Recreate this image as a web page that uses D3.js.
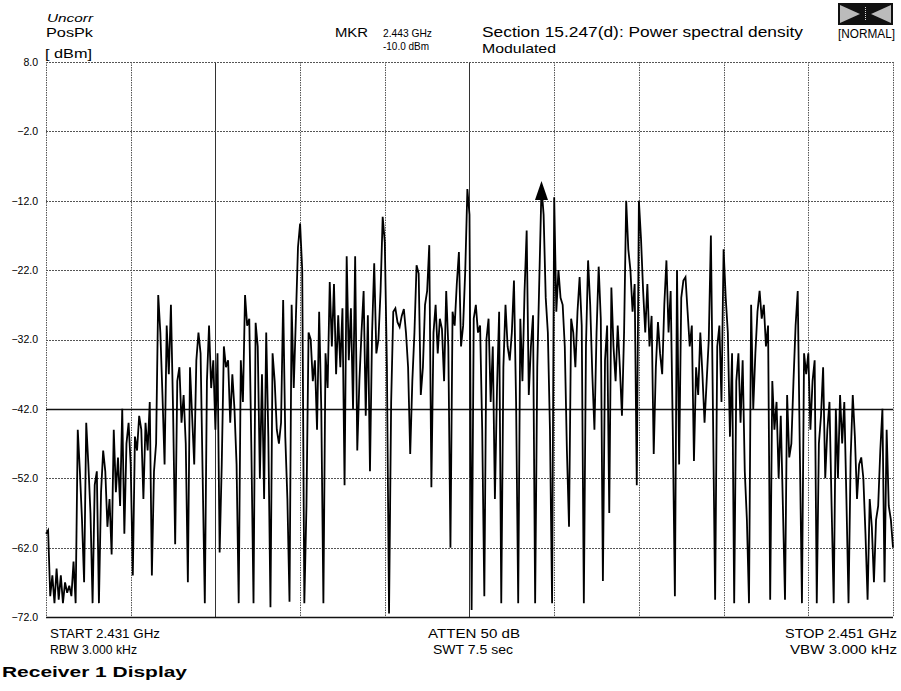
<!DOCTYPE html>
<html>
<head>
<meta charset="utf-8">
<script src="https://cdn.jsdelivr.net/npm/d3@7"></script>
<style>
  html, body { margin: 0; padding: 0; background: #fff; }
  text { font-family: "Liberation Sans", Arial, sans-serif; fill: #000; }
</style>
</head>
<body>
<div id="chart"></div>
<script>
// spectrum analyser screen: 2.431 - 2.451 GHz, PosPk trace

const startGHz = 2.431;
const stopGHz = 2.451;
const yTicks = [8, -2, -12, -22, -32, -42, -52, -62, -72];
const markerIndex = 234;

// trace levels in dBm, left to right
const traceLevels = [
  -60, -59.5, -69, -66, -70, -65, -69.5, -66, -70, -67, -68.5, -67.5, -69, -64,
  -70, -45, -51, -58, -67, -44, -50, -57, -70, -53, -51, -70,
  -54, -48, -51, -59, -55, -63, -45, -54, -49, -56, -42, -60, -47, -44,
  -50, -66, -46, -48, -43, -45, -55, -44, -48, -41, -66, -51, -47, -25.6,
  -31, -40, -50, -30, -37, -27, -42, -61.5, -38, -36, -44, -40, -47, -67, -36, -43, -50, -35, -31,
  -34, -52, -70, -38, -30, -39, -35, -45, -34, -62.7, -50, -33, -36, -35, -44, -37, -42, -50, -70, -35,
  -41, -25.6, -30, -29, -48, -70, -29.6, -33, -52,
  -37, -55, -31, -46, -70.6, -34, -38, -45, -47, -44, -26.3, -46, -55, -69.8, -27, -39, -29, -18.7, -15.3,
  -22, -70, -56, -31, -32, -38, -35, -45, -28, -42, -70, -34, -39, -23.7, -33, -24, -37, -28.5, -36,
  -27.5, -53, -20, -35, -27.5, -42, -20, -48, -38, -31, -25, -43, -28.5, -51, -31, -21, -34, -32, -25, -14.3,
  -18, -36, -71.5,
  -41, -28, -27.5, -29.5, -30.2, -28.6, -27.6, -31, -36, -48.5, -38, -31, -21.3, -22.5,
  -40, -36, -27, -25, -18.4, -53.3, -31, -27, -34, -29, -30.5, -38, -25, -33, -62, -28, -30, -24, -19.4, -33,
  -30, -22, -10.3, -14, -71,
  -29, -27, -31, -30, -45, -69, -32, -29, -41, -33, -55, -39, -28, -70, -36, -27, -33, -35, -31, -23.5,
  -41, -70, -29,
  -38, -25, -16.3, -40, -33, -28.5, -70, -36, -23, -10, -14, -26, -31, -45, -70, -11.5, -28, -22, -26, -27,
  -33, -48, -59, -29,
  -31, -36, -28, -23, -30, -70, -33, -20.6, -27, -37, -45, -31, -21.5, -29, -66.8, -35, -30, -57, -24.5, -33,
  -38, -30, -36, -43,
  -31, -12, -19, -22, -28, -24, -53, -12, -17.5, -25, -31, -24, -33, -28.6, -48.5, -36, -29.5, -34, -37, -27,
  -20.6, -31, -25, -45, -69, -22, -50, -26,
  -23.5, -23, -28, -33, -30, -49.5, -36, -40, -31, -37, -44, -38, -32, -17, -43, -69.5, -33, -30, -41, -19,
  -26, -31, -46, -34, -70, -38, -34, -44,
  -35, -51, -58, -70, -27, -42, -34, -28, -25, -29, -27, -33, -30, -69.5, -38, -45, -41, -52, -43, -56,
  -69.5, -40, -49, -47, -38, -30, -25, -48,
  -70, -34, -37, -34, -45, -38, -35, -70, -47, -43, -36, -52, -45, -41, -56, -70, -42, -52, -40, -47,
  -41, -55, -70, -49, -40, -46, -55, -50, -49, -52, -60, -69.5, -55, -59, -67, -58, -56, -48, -42, -67,
  -45, -56, -58, -62
];

const headerLeft = ["Uncorr", "PosPk", "[ dBm]"];
const markerText = ["MKR", "2.443 GHz", "-10.0 dBm"];
const titleText = ["Section 15.247(d): Power spectral density", "Modulated"];
const footLeft = ["START 2.431 GHz", "RBW 3.000 kHz"];
const footMid = ["ATTEN 50 dB", "SWT 7.5 sec"];
const footRight = ["STOP 2.451 GHz", "VBW 3.000 kHz"];

const width = 901, height = 691;
const plot = { left: 46, right: 893, top: 62, bottom: 617 };

const svg = d3.select("#chart").append("svg")
  .attr("width", width)
  .attr("height", height);

const x = d3.scaleLinear().domain([startGHz, stopGHz]).range([plot.left, plot.right]);
const y = d3.scaleLinear().domain([-72, 8]).range([plot.bottom, plot.top]);

const step = (stopGHz - startGHz) / (traceLevels.length - 1);
const trace = traceLevels.map((v, i) => ({ f: startGHz + i * step, v: v }));

// grid
const xGrid = d3.range(11).map(k => startGHz + k * 0.002);
const solidX = [2, 5];
const solidY = [-42];

svg.append("g").selectAll("line")
  .data(xGrid)
  .join("line")
  .attr("x1", d => Math.round(x(d)) + 0.5)
  .attr("x2", d => Math.round(x(d)) + 0.5)
  .attr("y1", plot.top)
  .attr("y2", plot.bottom)
  .attr("stroke", (d, i) => solidX.includes(i) ? "#333" : "#555")
  .attr("stroke-width", 1)
  .attr("stroke-dasharray", (d, i) => solidX.includes(i) ? null : "1.5,1");

svg.append("g").selectAll("line")
  .data(yTicks)
  .join("line")
  .attr("x1", plot.left)
  .attr("x2", plot.right)
  .attr("y1", d => Math.round(y(d)) + 0.5)
  .attr("y2", d => Math.round(y(d)) + 0.5)
  .attr("stroke", d => (solidY.includes(d) || d === -72) ? "#111" : "#555")
  .attr("stroke-width", d => (solidY.includes(d) || d === -72) ? 1.3 : 1)
  .attr("stroke-dasharray", d => (solidY.includes(d) || d === -72) ? null : "2,1");

// y labels
const yAxis = svg.append("g")
  .attr("transform", `translate(${plot.left - 8},0)`)
  .call(d3.axisLeft(y).tickValues(yTicks).tickFormat(d3.format(".1f")).tickSize(0));
yAxis.select(".domain").remove();
yAxis.selectAll("text")
  .attr("x", 0)
  .style("font-family", "Liberation Sans, Arial, sans-serif")
  .style("font-size", "10.5px")
  .attr("fill", "#000");

// trace
const line = d3.line()
  .x(d => x(d.f))
  .y(d => y(d.v));

svg.append("path")
  .datum(trace)
  .attr("fill", "none")
  .attr("stroke", "#000")
  .attr("stroke-width", 1.8)
  .attr("stroke-linejoin", "miter")
  .attr("d", line);

// marker triangle
const mk = trace[markerIndex];
const mx = x(mk.f), my = y(mk.v);
svg.append("path")
  .attr("d", `M${mx},${my - 6} L${mx - 6.5},${my + 13} L${mx + 6.5},${my + 13} Z`)
  .attr("fill", "#000");

// header texts
svg.append("text").attr("x", 47).attr("y", 22)
  .style("font-size", "10px").style("font-style", "italic")
  .attr("textLength", 46).attr("lengthAdjust", "spacingAndGlyphs")
  .text(headerLeft[0]);
svg.append("text").attr("x", 46).attr("y", 37)
  .style("font-size", "13px")
  .attr("textLength", 47).attr("lengthAdjust", "spacingAndGlyphs")
  .text(headerLeft[1]);
svg.append("text").attr("x", 45).attr("y", 58)
  .style("font-size", "12.5px")
  .attr("textLength", 47).attr("lengthAdjust", "spacingAndGlyphs")
  .text(headerLeft[2]);

svg.append("text").attr("x", 335).attr("y", 37)
  .style("font-size", "12px")
  .attr("textLength", 33).attr("lengthAdjust", "spacingAndGlyphs")
  .text(markerText[0]);
svg.append("text").attr("x", 383).attr("y", 37)
  .style("font-size", "11.5px")
  .attr("textLength", 49).attr("lengthAdjust", "spacingAndGlyphs")
  .text(markerText[1]);
svg.append("text").attr("x", 383).attr("y", 50)
  .style("font-size", "11.5px")
  .attr("textLength", 46).attr("lengthAdjust", "spacingAndGlyphs")
  .text(markerText[2]);

svg.append("text").attr("x", 482).attr("y", 37)
  .style("font-size", "14px")
  .attr("textLength", 321).attr("lengthAdjust", "spacingAndGlyphs")
  .text(titleText[0]);
svg.append("text").attr("x", 482).attr("y", 53)
  .style("font-size", "13.5px")
  .attr("textLength", 74).attr("lengthAdjust", "spacingAndGlyphs")
  .text(titleText[1]);

// mode icon
const icon = svg.append("g").attr("transform", "translate(838,3)");
icon.append("rect").attr("width", 55).attr("height", 22).attr("fill", "#111");
icon.append("path").attr("d", "M2,2 L22,11 L2,20 Z").attr("fill", "#bbb");
icon.append("path").attr("d", "M53,2 L33,11 L53,20 Z").attr("fill", "#bbb");
icon.append("line").attr("x1", 27.5).attr("x2", 27.5).attr("y1", 4).attr("y2", 18)
  .attr("stroke", "#ddd").attr("stroke-dasharray", "1,1");
svg.append("text").attr("x", 895).attr("y", 38).attr("text-anchor", "end")
  .style("font-size", "12.5px")
  .attr("textLength", 57).attr("lengthAdjust", "spacingAndGlyphs")
  .text("[NORMAL]");

// footer texts
const foot = svg.append("g").style("font-size", "12px");
foot.append("text").attr("x", 50).attr("y", 638)
  .attr("textLength", 110).attr("lengthAdjust", "spacingAndGlyphs").text(footLeft[0]);
foot.append("text").attr("x", 50).attr("y", 654)
  .attr("textLength", 87).attr("lengthAdjust", "spacingAndGlyphs").text(footLeft[1]);
foot.append("text").attr("x", 428).attr("y", 638)
  .attr("textLength", 92).attr("lengthAdjust", "spacingAndGlyphs").text(footMid[0]);
foot.append("text").attr("x", 433).attr("y", 654)
  .attr("textLength", 80).attr("lengthAdjust", "spacingAndGlyphs").text(footMid[1]);
foot.append("text").attr("x", 785).attr("y", 638)
  .attr("textLength", 112).attr("lengthAdjust", "spacingAndGlyphs").text(footRight[0]);
foot.append("text").attr("x", 790).attr("y", 654)
  .attr("textLength", 107).attr("lengthAdjust", "spacingAndGlyphs").text(footRight[1]);

svg.append("text").attr("x", 2).attr("y", 677)
  .style("font-size", "15px").style("font-weight", "bold")
  .attr("textLength", 185).attr("lengthAdjust", "spacingAndGlyphs")
  .text("Receiver 1 Display");
</script>
</body>
</html>
